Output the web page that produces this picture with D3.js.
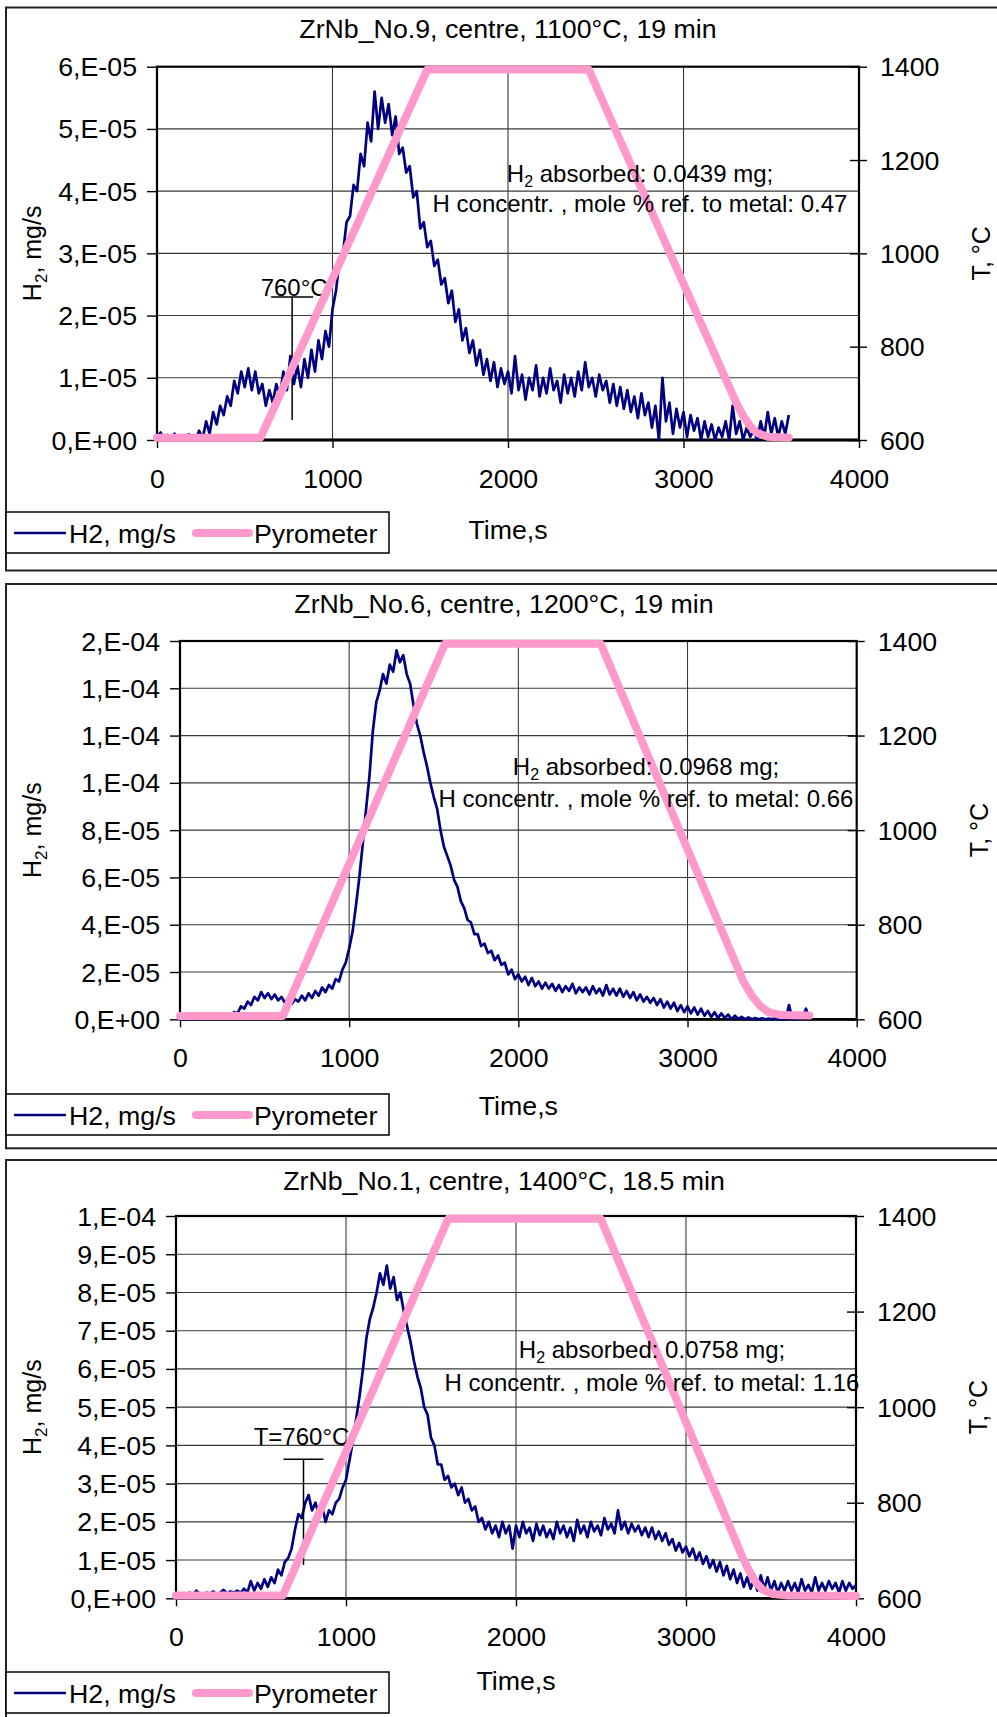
<!DOCTYPE html>
<html><head><meta charset="utf-8">
<script src="https://cdn.jsdelivr.net/npm/d3@7"></script>
<style>
html,body{margin:0;padding:0;background:#fff;}
svg{display:block;}
</style></head><body>
<svg id="chart" width="997" height="1717"></svg>
<script>
// ---------------- DATA ----------------
const titles = ["ZrNb_No.9, centre, 1100°C, 19 min", "ZrNb_No.6, centre, 1200°C, 19 min", "ZrNb_No.1, centre, 1400°C, 18.5 min"];
const timeTicks = [0, 1000, 2000, 3000, 4000];
const timeTickLabels = ["0", "1000", "2000", "3000", "4000"];
const tempTicks = [600, 800, 1000, 1200, 1400];
const tempTickLabels = ["600", "800", "1000", "1200", "1400"];

const h2Ticks1 = [0, 1e-5, 2e-5, 3e-5, 4e-5, 5e-5, 6e-5];
const h2TickLabels1 = ["0,E+00", "1,E-05", "2,E-05", "3,E-05", "4,E-05", "5,E-05", "6,E-05"];
const h2Ticks2 = [0, 2e-5, 4e-5, 6e-5, 8e-5, 1e-4, 1.2e-4, 1.4e-4, 1.6e-4];
const h2TickLabels2 = ["0,E+00", "2,E-05", "4,E-05", "6,E-05", "8,E-05", "1,E-04", "1,E-04", "1,E-04", "2,E-04"];
const h2Ticks3 = [0, 1e-5, 2e-5, 3e-5, 4e-5, 5e-5, 6e-5, 7e-5, 8e-5, 9e-5, 1e-4];
const h2TickLabels3 = ["0,E+00", "1,E-05", "2,E-05", "3,E-05", "4,E-05", "5,E-05", "6,E-05", "7,E-05", "8,E-05", "9,E-05", "1,E-04"];

// H2 release rate, in units of 1E-05 mg/s, sampled every 20 s starting at t = 0
const h2Unit = 1e-5;
const sampleStep = 20;
const h2Values1 = [
  0.05,0.12,0.02,0.08,0.0,0.1,0.03,0.06,0.0,0.09,
  0.05,0.0,0.15,0.02,0.3,0.1,0.45,0.25,0.55,0.4,
  0.7,0.55,0.95,0.75,1.1,0.85,1.15,0.8,1.1,0.75,
  0.9,0.55,0.8,0.6,0.9,0.7,1.1,0.8,1.35,0.9,
  1.2,0.85,1.3,1.0,1.45,1.1,1.6,1.3,1.75,1.5,
  2.1,2.4,2.9,3.0,3.5,3.6,4.1,4.0,4.6,4.4,
  5.1,4.8,5.6,5.0,5.5,5.1,5.4,4.9,5.2,4.6,
  4.7,4.3,4.4,3.9,4.0,3.4,3.5,3.1,3.2,2.8,
  2.9,2.5,2.6,2.2,2.4,1.9,2.1,1.6,1.8,1.4,
  1.6,1.2,1.45,1.05,1.3,0.95,1.25,0.85,1.15,0.9,
  1.1,0.75,1.35,0.8,1.05,0.65,1.0,0.8,1.2,0.7,
  1.0,0.75,1.15,0.8,0.95,0.6,1.05,0.75,1.0,0.7,
  1.1,0.8,1.25,0.85,1.0,0.7,1.05,0.8,0.95,0.6,
  0.9,0.55,0.85,0.5,0.8,0.45,0.7,0.35,0.75,0.4,
  0.6,0.2,0.55,0.0,1.0,0.3,0.6,0.1,0.5,0.2,
  0.45,0.05,0.4,0.15,0.35,0.0,0.3,0.05,0.25,0.0,
  0.2,0.05,0.3,0.0,0.55,0.1,0.3,0.0,0.2,0.05,
  0.15,0.0,0.3,0.05,0.45,0.1,0.35,0.05,0.3,0.1,
  0.4
];
const h2Values2 = [
  0.0,0.02,0.0,0.03,0.0,0.02,0.05,0.0,0.03,0.02,
  0.05,0.0,0.08,0.05,0.15,0.1,0.3,0.25,0.55,0.45,
  0.75,0.6,0.95,0.8,1.15,0.9,1.1,0.85,1.05,0.8,
  0.95,0.7,0.9,0.65,0.85,0.75,1.0,0.8,1.1,0.9,
  1.2,1.0,1.35,1.15,1.45,1.3,1.7,1.6,2.1,2.4,
  3.0,3.7,4.8,6.0,7.4,8.9,10.3,12.2,13.4,13.9,
  14.6,14.2,15.0,14.7,15.6,15.1,15.4,14.6,14.2,13.3,
  12.5,12.0,11.3,10.7,10.0,9.4,8.9,8.0,7.3,6.9,
  6.5,5.9,5.6,5.0,4.7,4.2,4.1,3.6,3.6,3.1,
  3.2,2.8,2.9,2.5,2.7,2.3,2.4,1.9,2.1,1.7,
  1.9,1.6,1.8,1.45,1.75,1.4,1.6,1.3,1.55,1.3,
  1.5,1.2,1.45,1.15,1.4,1.2,1.5,1.1,1.35,1.15,
  1.35,1.05,1.4,1.1,1.3,1.0,1.45,1.05,1.3,1.0,
  1.3,0.95,1.2,0.9,1.15,0.8,1.05,0.75,0.95,0.7,
  0.9,0.6,0.85,0.5,0.75,0.45,0.7,0.35,0.6,0.3,
  0.55,0.25,0.5,0.2,0.45,0.15,0.35,0.1,0.3,0.05,
  0.25,0.05,0.2,0.0,0.15,0.02,0.1,0.0,0.08,0.0,
  0.05,0.0,0.04,0.0,0.03,0.0,0.05,0.0,0.02,0.0,
  0.6,0.0,0.03,0.0,0.05,0.45,0.0
];
const h2Values3 = [
  0.1,0.12,0.08,0.1,0.15,0.1,0.2,0.12,0.1,0.15,
  0.12,0.18,0.1,0.15,0.22,0.12,0.18,0.15,0.2,0.14,
  0.25,0.15,0.45,0.2,0.4,0.25,0.5,0.3,0.55,0.4,
  0.75,0.6,0.95,1.05,1.3,1.8,2.2,2.1,2.5,2.7,
  2.3,2.5,2.2,2.4,2.0,2.3,2.2,2.5,2.6,2.9,
  3.1,3.6,4.1,4.7,5.3,6.0,6.8,7.3,7.6,8.0,
  8.5,8.2,8.7,8.1,8.4,7.8,8.0,7.5,7.1,6.7,
  6.2,5.8,5.5,5.0,4.8,4.2,4.0,3.5,3.5,3.1,
  3.2,2.9,3.0,2.7,2.9,2.5,2.6,2.3,2.4,2.0,
  2.1,1.8,2.0,1.7,1.9,1.6,2.0,1.7,1.9,1.3,
  1.9,1.6,2.0,1.7,1.85,1.5,1.95,1.65,1.9,1.6,
  1.8,1.55,2.0,1.7,1.9,1.6,1.85,1.5,2.05,1.7,
  1.9,1.6,2.0,1.75,1.9,1.65,2.1,1.8,1.95,1.7,
  2.3,1.8,2.0,1.7,1.95,1.75,1.9,1.65,1.85,1.6,
  1.85,1.55,1.75,1.5,1.7,1.4,1.55,1.25,1.45,1.2,
  1.35,1.1,1.3,1.0,1.2,0.9,1.1,0.8,1.0,0.7,
  0.95,0.6,0.85,0.5,0.75,0.4,0.65,0.3,0.55,0.25,
  0.5,0.2,0.6,0.25,0.55,0.2,0.45,0.15,0.4,0.2,
  0.45,0.2,0.4,0.15,0.5,0.2,0.35,0.15,0.55,0.2,
  0.4,0.2,0.45,0.25,0.4,0.15,0.45,0.2,0.4,0.25,
  0.35
];

// Pyrometer temperature (°C) at the given times (s)
const pyroTime1 = [0, 590, 1540, 2460, 3300, 3340, 3380, 3420, 3480, 3600];
const pyroTemp1 = [605, 605, 1394, 1394, 680, 652, 630, 615, 607, 605];
const pyroTime2 = [0, 608, 1566, 2487, 3330, 3380, 3430, 3480, 3550, 3720];
const pyroTemp2 = [607, 607, 1394, 1394, 680, 650, 628, 615, 609, 608];
const pyroTime3 = [0, 629, 1601, 2499, 3330, 3370, 3410, 3450, 3510, 3600, 4000];
const pyroTemp3 = [606, 606, 1394, 1394, 688, 658, 634, 618, 609, 606, 605];

const absorbedMg = ["0.0439", "0.0968", "0.0758"];
const concMolePct = ["0.47", "0.66", "1.16"];

// 760°C markers: time (s), top and bottom of the marker line (mg/s)
const markerLabels = ["760°C", null, "T=760°C"];
const markerTimes = [770, null, 750];
const markerTops = [2.3e-5, null, 3.64e-5];
const markerBottoms = [0.32e-5, null, 0.87e-5];

// ---------------- LAYOUT ----------------
const FONT = '"Liberation Sans", Arial, Helvetica, sans-serif';
const SX = 1.07;
const layouts = [
  {frameTop:7.5, frameBottom:570.5, l:157, t:66.7, r:859, b:440, titleX:508, titleY:38, legendTop:512, timeTitleY:539, noteX:640, noteY1:181.5, noteY2:211.5, yTitleX:41, tTitleX:990, mkDx:2, mkDy:-1, mkHalf:21},
  {frameTop:584, frameBottom:1148.3, l:180, t:641, r:856.7, b:1019.3, titleX:504, titleY:613, legendTop:1094, timeTitleY:1115, noteX:646, noteY1:775, noteY2:807, yTitleX:41, tTitleX:988},
  {frameTop:1160, frameBottom:1730, l:176, t:1216, r:856, b:1598.3, titleX:504, titleY:1190, legendTop:1672, timeTitleY:1690, noteX:652, noteY1:1358, noteY2:1390.5, yTitleX:41, tTitleX:987, mkDx:-2, mkDy:-14.5, mkHalf:20}
];
const h2Series = [h2Values1, h2Values2, h2Values3];
const h2TickSets = [h2Ticks1, h2Ticks2, h2Ticks3];
const h2LabelSets = [h2TickLabels1, h2TickLabels2, h2TickLabels3];
const pyroTimes = [pyroTime1, pyroTime2, pyroTime3];
const pyroTemps = [pyroTemp1, pyroTemp2, pyroTemp3];

const BLUE = "#000080", PINK = "#FF99CC";

function stretch(sel) {
  sel.each(function () {
    const t = d3.select(this);
    const x = +(t.attr("x") || 0);
    t.attr("x", x / SX).attr("transform", `scale(${SX},1)`);
  });
}

const svg = d3.select("#chart").attr("font-family", FONT);
svg.append("rect").attr("width", 997).attr("height", 1717).attr("fill", "#fff");

layouts.forEach((L, k) => {
  const yTicks = h2TickSets[k];
  const x = d3.scaleLinear().domain([timeTicks[0], timeTicks[timeTicks.length - 1]]).range([L.l, L.r]);
  const y = d3.scaleLinear().domain([yTicks[0], yTicks[yTicks.length - 1]]).range([L.b, L.t]);
  const yT = d3.scaleLinear().domain([tempTicks[0], tempTicks[tempTicks.length - 1]]).range([L.b, L.t]);

  // chart frame
  svg.append("rect").attr("x", 6).attr("y", L.frameTop).attr("width", 1010)
    .attr("height", L.frameBottom - L.frameTop).attr("fill", "#fff")
    .attr("stroke", "#222").attr("stroke-width", 2);

  const g = svg.append("g");
  // gridlines
  g.selectAll("line.hg").data(yTicks.slice(1, -1)).join("line").attr("class", "hg")
    .attr("x1", L.l).attr("x2", L.r).attr("y1", d => y(d)).attr("y2", d => y(d))
    .attr("stroke", "#3a3a3a").attr("stroke-width", 1.1);
  g.selectAll("line.vg").data(timeTicks.slice(1, -1)).join("line").attr("class", "vg")
    .attr("y1", L.t).attr("y2", L.b).attr("x1", d => x(d)).attr("x2", d => x(d))
    .attr("stroke", "#3a3a3a").attr("stroke-width", 1.1);
  // plot border
  g.append("rect").attr("x", L.l).attr("y", L.t).attr("width", L.r - L.l).attr("height", L.b - L.t)
    .attr("fill", "none").attr("stroke", "#000").attr("stroke-width", 2.2);
  g.append("line").attr("x1", L.l).attr("x2", L.r).attr("y1", y(0)).attr("y2", y(0))
    .attr("stroke", "#000").attr("stroke-width", 2.8);

  // axes
  const axB = svg.append("g").attr("transform", `translate(0,${L.b})`)
    .call(d3.axisBottom(x).tickValues(timeTicks).tickFormat((d, i) => timeTickLabels[i]).tickSize(8).tickPadding(22));
  const axL = svg.append("g").attr("transform", `translate(${L.l},0)`)
    .call(d3.axisLeft(y).tickValues(yTicks).tickFormat((d, i) => h2LabelSets[k][i]).tickSize(10).tickPadding(10));
  const axR = svg.append("g").attr("transform", `translate(${L.r},0)`)
    .call(d3.axisRight(yT).tickValues(tempTicks).tickFormat((d, i) => tempTickLabels[i]).tickSize(8).tickPadding(13));
  [axB, axL, axR].forEach(a => {
    a.select(".domain").remove();
    a.attr("font-family", FONT).attr("font-size", 25);
    a.selectAll("line").attr("stroke", "#000").attr("stroke-width", 1.4);
    a.selectAll("text").attr("fill", "#000");
  });
  axL.selectAll("text").attr("dy", "0.36em");
  axR.selectAll("text").attr("dy", "0.36em");
  axR.selectAll("line").attr("x1", -9);
  [axB, axL, axR].forEach(a => stretch(a.selectAll("text")));

  // H2 series
  const h2 = h2Series[k];
  const h2Line = d3.line().x((d, i) => x(i * sampleStep)).y(d => y(d * h2Unit));
  svg.append("path").datum(h2).attr("d", h2Line).attr("fill", "none")
    .attr("stroke", BLUE).attr("stroke-width", 2.7).attr("stroke-linejoin", "round");

  // 760°C marker
  if (markerLabels[k]) {
    const mx = x(markerTimes[k]), my = y(markerTops[k]);
    svg.append("line").attr("x1", mx).attr("x2", mx).attr("y1", my).attr("y2", y(markerBottoms[k]))
      .attr("stroke", "#000").attr("stroke-width", 1.5);
    svg.append("line").attr("x1", mx - L.mkHalf).attr("x2", mx + L.mkHalf).attr("y1", my).attr("y2", my)
      .attr("stroke", "#000").attr("stroke-width", 1.5);
    svg.append("text").attr("x", mx + L.mkDx).attr("y", my + L.mkDy).attr("text-anchor", "middle")
      .attr("font-size", 24).text(markerLabels[k]);
  }

  // pyrometer series
  const pyro = pyroTimes[k].map((t, i) => [t, pyroTemps[k][i]]);
  svg.append("path").datum(pyro).attr("d", d3.line().x(d => x(d[0])).y(d => yT(d[1])))
    .attr("fill", "none").attr("stroke", PINK).attr("stroke-width", 8)
    .attr("stroke-linejoin", "round").attr("stroke-linecap", "round");

  // annotation
  const n1 = svg.append("text").attr("x", L.noteX).attr("y", L.noteY1).attr("text-anchor", "middle").attr("font-size", 24);
  n1.append("tspan").text("H");
  n1.append("tspan").attr("font-size", 16).attr("dy", 5).text("2");
  n1.append("tspan").attr("dy", -5).text(" absorbed: " + absorbedMg[k] + " mg;");
  svg.append("text").attr("x", L.noteX).attr("y", L.noteY2).attr("text-anchor", "middle").attr("font-size", 24)
    .text("H concentr. , mole % ref. to metal: " + concMolePct[k]);

  // title
  const tt = svg.append("text").attr("x", L.titleX).attr("y", L.titleY).attr("text-anchor", "middle")
    .attr("font-size", 25).text(titles[k]);
  stretch(tt);

  // axis titles
  const tx = svg.append("text").attr("x", (L.l + L.r) / 2).attr("y", L.timeTitleY).attr("text-anchor", "middle")
    .attr("font-size", 25).text("Time,s");
  stretch(tx);
  const yl = svg.append("text").attr("transform", `translate(${L.yTitleX},${(L.t + L.b) / 2}) rotate(-90)`)
    .attr("text-anchor", "middle").attr("font-size", 25);
  yl.append("tspan").text("H");
  yl.append("tspan").attr("font-size", 17).attr("dy", 6).text("2");
  yl.append("tspan").attr("dy", -6).text(", mg/s");
  svg.append("text").attr("transform", `translate(${L.tTitleX},${(L.t + L.b) / 2}) rotate(-90)`)
    .attr("text-anchor", "middle").attr("font-size", 25).text("T, °C");

  // legend
  const lg = svg.append("g").attr("transform", `translate(6,${L.legendTop})`);
  lg.append("rect").attr("width", 383).attr("height", 41).attr("fill", "#fff").attr("stroke", "#000").attr("stroke-width", 1.5);
  lg.append("line").attr("x1", 8).attr("x2", 60).attr("y1", 21).attr("y2", 21).attr("stroke", BLUE).attr("stroke-width", 2.5);
  const lt1 = lg.append("text").attr("x", 63).attr("y", 31).attr("font-size", 25).text("H2, mg/s");
  lg.append("line").attr("x1", 190).attr("x2", 243).attr("y1", 21).attr("y2", 21).attr("stroke", PINK)
    .attr("stroke-width", 8).attr("stroke-linecap", "round");
  const lt2 = lg.append("text").attr("x", 248).attr("y", 31).attr("font-size", 25).text("Pyrometer");
  stretch(lt1); stretch(lt2);
});
</script></body></html>
